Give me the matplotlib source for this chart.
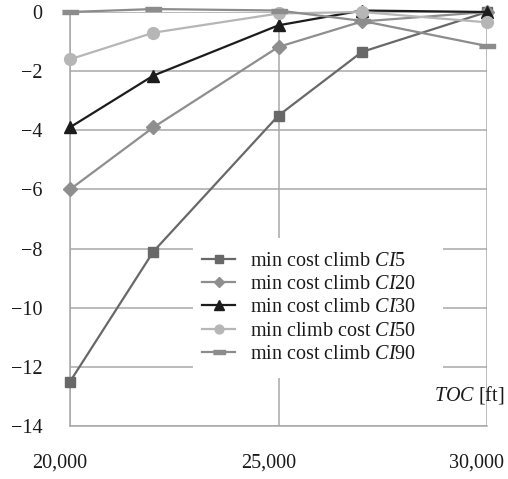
import numpy as np
import matplotlib
matplotlib.use("Agg")
import matplotlib.pyplot as plt
from matplotlib.patches import Rectangle
from matplotlib.transforms import ScaledTranslation

plt.rcParams['font.family'] = ['Liberation Serif', 'DejaVu Serif']
plt.rcParams['mathtext.fontset'] = 'custom'
plt.rcParams['mathtext.rm'] = 'Liberation Serif'
plt.rcParams['mathtext.it'] = 'Liberation Serif:italic'

# 爬升顶点高度 TOC [ft]
toc = [20000, 22000, 25000, 27000, 30000]

# 各成本指数下的差值
ci5 = [-12.5, -8.1, -3.5, -1.35, 0.0]
ci20 = [-6.0, -3.9, -1.18, -0.32, 0.0]
ci30 = [-3.9, -2.15, -0.45, 0.05, 0.0]
ci50 = [-1.6, -0.7, -0.05, 0.0, -0.35]
ci90 = [0.0, 0.1, 0.05, -0.3, -1.15]

labels = [r'min cost climb $\mathit{CI}$5',
          r'min cost climb $\mathit{CI}$20',
          r'min cost climb $\mathit{CI}$30',
          r'min climb cost $\mathit{CI}$50',
          r'min cost climb $\mathit{CI}$90']

grid_c = '#a8a8a8'
dash = [(-1, -0.32), (1, -0.32), (1, 0.32), (-1, 0.32)]   # 扁平矩形标记

styles = [
    dict(color='#686868', marker='s', ms=7.5),
    dict(color='#8e8e8e', marker='D', ms=7),
    dict(color='#1c1c1c', marker='^', ms=9),
    dict(color='#b6b6b6', marker='o', ms=8.5),
    dict(color='#8c8c8c', marker=dash, ms=11),
]

fig = plt.figure(figsize=(5.08, 4.79), dpi=100)
ax = fig.add_axes([70 / 508, 53 / 479, 417 / 508, 414 / 479])

for y, lab, st in zip([ci5, ci20, ci30, ci50, ci90], labels, styles):
    ax.plot(toc, y, lw=1.6, label=lab, clip_on=False, zorder=3,
            mec=st['color'], mfc=st['color'], **st)

ax.set_xlim(20000, 30000)
ax.set_ylim(-14, 0)
ax.set_xticks([20000, 25000, 30000])
ax.set_xticklabels(['20,000', '25,000', '30,000'])
ax.set_yticks(np.arange(-14, 1, 2))
ax.grid(True, color=grid_c, lw=1.1, zorder=0)
ax.set_axisbelow(True)

for s in ['top', 'right']:
    ax.spines[s].set_visible(False)
for s in ['left', 'bottom']:
    ax.spines[s].set_color(grid_c)
    ax.spines[s].set_linewidth(1.1)

ax.tick_params(axis='both', length=0, labelsize=14.5, colors='#1a1a1a')
ax.tick_params(axis='y', pad=20)
ax.tick_params(axis='x', pad=20)
off = ScaledTranslation(-10 / 100, 0, fig.dpi_scale_trans)
for t in ax.get_xticklabels():
    t.set_transform(t.get_transform() + off)

ax.text(0.873, 0.075, r'$\mathit{TOC}$ [ft]', transform=ax.transAxes,
        fontsize=14.5, ha='left', va='center', color='#1a1a1a', clip_on=False)

# 图例底色：白色块遮住网格线
ax.add_patch(Rectangle((0.295, 0.116), 0.6, 0.338, transform=ax.transAxes,
                       facecolor='white', edgecolor='none', zorder=1))

leg = ax.legend(loc='upper left', bbox_to_anchor=(0.3165, 0.42), fontsize=14.5,
                frameon=False, handlelength=1.65, handletextpad=0.75,
                labelspacing=0.2, borderpad=0, borderaxespad=0, markerscale=0.75)
for t in leg.get_texts():
    t.set_color('#1a1a1a')

fig.savefig('out.png', dpi=100)
